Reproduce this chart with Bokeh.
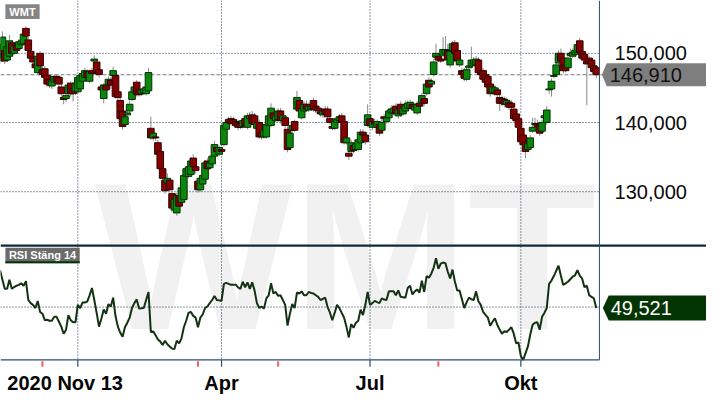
from bokeh.plotting import figure
from bokeh.models import Range1d
from bokeh.embed import file_html
from bokeh.resources import INLINE
from bokeh.core.properties import value

# ---------------- data ----------------
symbol = "WMT"
rsi_title = "RSI Stäng 14"
start_label = "2020 Nov 13"

opens = [
    148.89, 149.31, 150.42, 149.03, 149.58, 151.53, 150.00, 151.11, 150.69, 151.25,
    151.39, 153.61, 151.94, 150.28, 149.44, 148.47, 147.22, 150.00, 147.64, 147.78,
    146.81, 146.25, 145.28, 145.83, 146.67, 146.53, 145.14, 143.61, 143.47, 144.17,
    145.69, 144.86, 144.44, 144.44, 144.86, 145.97, 146.53, 147.36, 145.97, 147.50,
    148.89, 148.75, 147.64, 145.14, 143.47, 145.42, 145.42, 146.11, 146.81, 146.81,
    144.44, 143.19, 141.67, 139.72, 141.11, 141.67, 143.33, 144.44, 145.83, 144.72,
    144.17, 144.31, 144.17, 144.58, 139.17, 137.78, 137.92, 137.08, 135.83, 133.33,
    131.67, 131.25, 131.67, 129.72, 127.36, 126.94, 129.44, 128.47, 128.89, 132.22,
    132.22, 132.50, 134.86, 133.61, 131.53, 130.28, 131.11, 131.81, 134.44, 133.47,
    134.03, 135.14, 136.39, 135.42, 136.11, 136.81, 139.03, 140.42, 140.56, 140.42,
    140.14, 140.00, 139.86, 139.44, 140.56, 139.31, 140.56, 141.11, 140.97, 139.17,
    140.00, 138.47, 137.92, 137.92, 139.58, 139.58, 141.39, 140.28, 140.42, 141.67,
    140.28, 140.69, 139.03, 136.39, 138.89, 140.14, 141.94, 143.19, 140.69, 141.67,
    142.64, 141.81, 141.94, 143.19, 142.36, 142.08, 141.53, 141.11, 141.94, 141.94,
    140.56, 139.44, 139.17, 140.00, 140.28, 140.97, 140.14, 137.08, 135.56, 135.83,
    136.67, 136.11, 136.11, 137.08, 138.61, 138.19, 139.58, 140.56, 139.31, 140.14,
    139.31, 139.72, 138.89, 140.83, 140.14, 140.69, 141.39, 141.39, 142.36, 140.97,
    142.64, 141.25, 141.67, 142.08, 142.08, 142.64, 141.81, 141.39, 142.78, 142.78,
    143.47, 144.17, 146.11, 145.56, 146.94, 149.44, 149.58, 149.17, 149.72, 150.00,
    150.42, 148.33, 150.42, 151.53, 150.42, 148.33, 147.50, 147.50, 146.25, 147.92,
    148.19, 148.47, 148.33, 149.03, 147.50, 147.50, 146.94, 146.67, 145.56, 144.31,
    144.31, 144.72, 143.61, 143.47, 143.33, 142.64, 142.92, 142.78, 141.94, 141.25,
    140.56, 139.17, 138.19, 137.22, 136.11, 136.39, 138.75, 139.72, 139.86, 139.72,
    138.75, 140.69, 140.00, 144.72, 144.86, 146.67, 146.94, 148.61, 150.00, 149.31,
    148.33, 147.92, 149.72, 149.58, 149.86, 150.14, 151.81, 150.28, 149.86, 148.89,
    149.31, 149.03, 148.19, 147.92,
]

closes = [
    151.39, 152.36, 148.89, 150.97, 151.81, 150.00, 151.11, 150.42, 151.67, 151.81,
    152.78, 152.50, 150.42, 149.31, 148.75, 147.92, 149.58, 148.19, 146.94, 146.53,
    145.56, 145.42, 146.11, 146.67, 145.97, 145.56, 144.17, 143.33, 143.89, 145.42,
    144.17, 144.17, 145.69, 146.53, 146.81, 147.08, 147.50, 146.53, 147.36, 147.08,
    149.17, 147.22, 146.94, 144.72, 145.42, 144.72, 146.25, 145.42, 147.50, 143.75,
    143.61, 140.56, 139.44, 140.83, 141.39, 142.64, 144.44, 145.14, 144.03, 144.03,
    144.72, 144.86, 145.14, 147.22, 137.78, 138.47, 137.78, 135.42, 133.33, 131.94,
    130.14, 131.94, 130.28, 127.64, 128.89, 129.44, 127.92, 130.56, 132.36, 133.33,
    133.61, 134.44, 133.61, 133.06, 130.28, 131.94, 132.36, 134.17, 133.33, 134.17,
    135.14, 136.81, 135.83, 136.39, 135.83, 139.58, 140.00, 140.00, 139.86, 139.86,
    139.58, 139.31, 139.31, 140.28, 139.58, 140.97, 140.97, 139.86, 139.72, 140.00,
    137.92, 137.92, 138.89, 139.72, 140.97, 142.08, 140.56, 140.97, 141.67, 140.28,
    140.97, 139.58, 136.11, 138.47, 139.58, 138.89, 143.61, 141.67, 141.94, 142.64,
    141.94, 142.36, 142.36, 141.94, 141.81, 141.67, 141.25, 141.67, 141.25, 140.83,
    140.00, 139.17, 140.14, 140.56, 140.83, 140.00, 137.08, 137.78, 135.14, 137.08,
    135.97, 136.94, 137.50, 138.61, 138.19, 137.22, 141.11, 139.58, 140.14, 139.72,
    140.14, 138.47, 140.00, 140.56, 140.69, 141.67, 141.94, 142.08, 141.25, 141.94,
    141.25, 142.08, 142.50, 142.78, 142.92, 142.08, 142.36, 142.64, 142.36, 143.89,
    142.78, 145.56, 145.14, 145.97, 148.75, 150.00, 149.03, 148.89, 150.56, 150.56,
    149.03, 150.28, 151.39, 150.00, 148.89, 149.03, 146.94, 146.39, 147.64, 148.19,
    149.03, 149.03, 149.17, 147.22, 146.94, 146.25, 145.83, 145.14, 144.17, 145.14,
    145.00, 144.03, 142.78, 142.78, 142.64, 143.19, 142.22, 142.22, 140.56, 140.28,
    139.31, 137.22, 136.81, 135.83, 136.94, 137.78, 139.31, 139.86, 139.44, 138.47,
    140.00, 140.97, 141.81, 144.86, 145.97, 146.81, 148.33, 150.00, 148.89, 147.50,
    147.50, 149.31, 150.00, 150.14, 150.42, 151.25, 150.14, 149.31, 149.03, 148.47,
    148.75, 147.92, 147.36, 146.91,
]

highs = [
    152.36, 153.19, 150.69, 151.53, 152.64, 151.94, 151.53, 151.39, 152.08, 152.22,
    153.19, 153.89, 152.36, 150.69, 149.72, 149.03, 150.00, 150.28, 148.06, 148.19,
    147.08, 146.53, 146.39, 146.94, 146.94, 146.81, 145.56, 144.03, 144.31, 145.83,
    145.97, 145.14, 145.97, 146.81, 147.22, 147.36, 147.92, 147.64, 147.64, 147.92,
    149.72, 149.17, 147.92, 145.56, 145.69, 145.83, 146.67, 146.53, 148.06, 147.22,
    144.86, 143.75, 142.08, 141.11, 141.81, 143.19, 144.86, 145.56, 146.11, 145.14,
    145.00, 145.14, 145.42, 147.92, 140.83, 138.89, 138.33, 137.50, 136.25, 133.75,
    132.22, 132.64, 131.94, 130.14, 129.17, 129.86, 129.86, 130.97, 132.78, 133.75,
    134.03, 135.00, 135.42, 134.03, 131.94, 132.22, 132.64, 134.58, 134.86, 134.58,
    135.69, 137.36, 136.81, 136.67, 136.53, 140.00, 140.56, 140.83, 140.97, 140.83,
    140.56, 140.42, 140.28, 140.69, 140.97, 141.39, 141.53, 141.67, 141.39, 140.42,
    140.42, 138.89, 139.31, 140.14, 141.53, 142.78, 141.81, 141.39, 142.08, 142.08,
    141.39, 141.11, 139.44, 138.89, 139.86, 140.42, 144.58, 143.75, 142.36, 143.06,
    143.19, 142.78, 142.78, 143.61, 142.78, 142.50, 142.08, 142.08, 142.36, 142.36,
    140.97, 139.86, 140.56, 140.97, 141.25, 141.39, 140.56, 138.19, 135.97, 137.50,
    137.08, 137.36, 137.92, 139.03, 139.03, 138.61, 142.64, 140.97, 140.56, 140.56,
    140.42, 140.14, 140.42, 141.25, 141.11, 142.08, 142.50, 142.50, 142.78, 142.36,
    143.06, 142.50, 143.19, 143.19, 143.33, 143.06, 142.78, 143.06, 143.19, 144.31,
    143.89, 145.97, 146.53, 146.39, 149.17, 151.39, 150.00, 149.72, 152.36, 152.50,
    151.39, 150.97, 151.81, 151.94, 150.69, 149.31, 147.92, 147.92, 148.06, 148.61,
    150.97, 149.44, 149.58, 149.44, 147.92, 147.92, 147.36, 147.08, 145.97, 145.56,
    145.42, 145.14, 144.03, 143.89, 143.75, 143.61, 143.33, 143.19, 142.36, 141.67,
    140.97, 139.58, 138.61, 137.64, 137.36, 138.19, 140.69, 140.69, 140.42, 140.14,
    140.42, 141.39, 142.36, 145.28, 146.39, 147.22, 148.75, 150.42, 150.69, 149.72,
    148.75, 149.72, 150.69, 150.69, 150.97, 151.67, 152.22, 150.69, 150.28, 149.31,
    149.58, 149.44, 148.61, 148.33,
]

lows = [
    148.47, 149.03, 148.47, 148.75, 149.31, 149.58, 149.72, 150.00, 150.42, 150.97,
    151.11, 152.08, 150.00, 148.89, 148.33, 147.64, 146.94, 147.92, 146.53, 146.11,
    145.14, 145.00, 144.86, 145.56, 145.69, 145.14, 143.75, 142.64, 142.92, 143.89,
    143.75, 143.06, 144.03, 144.17, 144.58, 145.69, 146.25, 146.11, 145.69, 146.67,
    148.61, 146.81, 146.53, 144.31, 142.78, 144.31, 145.14, 144.86, 146.53, 143.47,
    143.19, 140.14, 139.03, 139.31, 140.83, 141.39, 143.06, 144.17, 143.75, 143.75,
    143.89, 144.03, 143.89, 144.31, 137.50, 137.36, 137.36, 135.00, 132.92, 131.53,
    129.72, 130.97, 129.86, 127.08, 126.94, 126.53, 127.50, 128.19, 128.61, 131.81,
    131.94, 132.22, 133.19, 132.64, 129.86, 130.00, 130.83, 131.53, 133.06, 133.19,
    133.75, 134.86, 135.56, 135.14, 135.56, 136.53, 138.75, 139.72, 139.58, 139.44,
    139.17, 138.89, 139.03, 139.17, 139.31, 139.03, 140.28, 139.58, 139.31, 138.75,
    137.64, 137.50, 137.64, 137.64, 139.31, 139.31, 140.14, 140.00, 140.14, 139.86,
    140.00, 139.17, 135.69, 136.11, 138.61, 138.61, 141.67, 141.25, 140.42, 141.39,
    141.53, 141.53, 141.67, 141.53, 141.39, 141.25, 140.83, 140.69, 140.97, 140.42,
    139.72, 138.89, 138.89, 139.72, 140.00, 139.72, 136.81, 136.81, 134.58, 135.42,
    135.56, 135.83, 135.83, 136.81, 137.78, 136.81, 139.31, 139.17, 138.89, 139.44,
    139.03, 138.06, 138.61, 140.14, 139.86, 140.42, 141.11, 141.11, 140.97, 140.56,
    140.83, 140.97, 141.39, 141.81, 141.81, 141.67, 141.39, 141.11, 142.08, 142.50,
    142.36, 143.89, 144.86, 145.14, 146.67, 149.03, 148.75, 148.61, 149.44, 149.72,
    148.61, 147.92, 150.14, 149.72, 148.47, 148.06, 146.53, 145.97, 145.97, 147.64,
    147.92, 148.19, 148.06, 146.81, 146.53, 145.83, 145.42, 144.72, 143.75, 144.03,
    144.03, 143.61, 141.67, 142.36, 142.22, 142.36, 141.81, 141.81, 140.14, 139.86,
    138.89, 136.81, 136.39, 134.86, 135.69, 136.11, 138.47, 139.44, 139.03, 138.06,
    138.33, 140.42, 139.72, 144.17, 143.75, 146.39, 146.67, 148.33, 148.47, 147.08,
    147.22, 147.64, 149.44, 149.31, 149.58, 149.86, 149.72, 148.89, 148.61, 142.50,
    148.33, 147.50, 146.94, 146.39,
]

rsi = [
    68.8, 64.0, 59.3, 59.3, 63.9, 59.3, 60.2, 60.9, 61.3, 62.1,
    60.9, 63.2, 53.6, 52.0, 51.1, 49.5, 53.1, 47.5, 46.6, 43.3,
    43.5, 43.0, 43.0, 45.0, 45.0, 42.5, 40.0, 36.4, 38.4, 45.9,
    43.3, 42.2, 42.2, 51.1, 49.5, 52.3, 52.3, 52.8, 56.0, 59.7,
    53.6, 47.0, 40.0, 44.0, 48.7, 46.6, 51.5, 50.3, 54.8, 45.4,
    40.0, 37.0, 34.8, 39.7, 42.0, 44.6, 49.5, 52.0, 53.9, 49.2,
    49.4, 49.5, 53.6, 57.7, 37.3, 37.6, 35.6, 33.5, 32.4, 30.7,
    32.8, 31.0, 29.9, 28.8, 28.6, 32.8, 31.5, 34.0, 39.7, 43.0,
    47.1, 47.5, 45.5, 44.6, 39.7, 44.6, 46.2, 49.5, 50.3, 52.0,
    53.6, 55.7, 53.6, 53.4, 53.1, 61.8, 62.3, 61.8, 61.4, 61.4,
    61.4, 60.0, 59.3, 62.9, 60.1, 62.6, 59.3, 62.6, 58.5, 52.0,
    49.5, 50.3, 49.2, 54.4, 56.0, 62.1, 56.9, 57.7, 55.7, 56.0,
    53.6, 51.1, 40.5, 46.6, 51.5, 49.5, 57.4, 56.9, 58.0, 56.0,
    56.0, 57.7, 57.2, 56.9, 56.0, 55.2, 53.6, 54.2, 54.8, 50.0,
    47.1, 43.3, 47.0, 51.1, 49.5, 47.0, 44.6, 40.0, 34.5, 41.3,
    39.4, 42.0, 43.0, 48.7, 45.9, 51.0, 57.7, 51.1, 52.0, 53.1,
    52.5, 52.0, 54.4, 53.8, 53.6, 58.0, 58.0, 58.0, 56.0, 58.5,
    55.2, 55.0, 54.8, 59.7, 60.9, 56.4, 58.0, 59.0, 57.4, 63.4,
    57.7, 65.8, 65.0, 67.0, 70.0, 74.9, 69.5, 72.1, 72.7, 72.4,
    68.0, 64.6, 69.1, 63.0, 58.5, 58.5, 54.0, 49.5, 52.5, 54.8,
    54.0, 53.6, 58.0, 53.0, 51.1, 47.5, 46.0, 44.6, 40.5, 42.5,
    44.3, 41.0, 38.5, 36.4, 37.7, 37.3, 38.5, 39.7, 36.4, 31.5,
    31.9, 25.0, 23.0, 26.5, 29.9, 36.0, 41.0, 42.0, 42.2, 38.4,
    45.0, 47.0, 49.5, 61.8, 63.5, 65.8, 68.5, 71.1, 66.0, 61.3,
    62.1, 62.9, 64.2, 65.5, 66.2, 68.8, 66.0, 64.6, 60.1, 60.9,
    56.0, 55.2, 54.4, 49.521,
]

price_ticks = [130, 140, 150]
price_tick_labels = ["130,000", "140,000", "150,000"]
date_ticks = [33, 94, 157, 221]          # trading-day index of Jan, Apr, Jul, Okt
date_tick_labels = ["", "Apr", "Jul", "Okt"]
dividend_idx = [18, 84, 118, 186]
rsi_mid = [50]
last_close_label = "146,910"
last_rsi_label = "49,521"

# ---------------- layout helpers (reference-layout pixels -> data) ----------------
W, H = 706, 394      # canvas; the 722x410 design is scaled into it
DAY_PX = 2.41        # design px per trading day
X0 = 0.2             # trading-day index at the left edge
PRICE_PX = 7.2       # design px per price unit
P_TOP = 150 + 55 / PRICE_PX
RSI_PX = 2.04        # design px per RSI unit
R_TOP = 50 + 319 / RSI_PX


def X(px):
    return X0 + px / DAY_PX


def PY(px):
    return P_TOP - px / PRICE_PX


def RY(px):
    return R_TOP - px / RSI_PX


FONT = value("Liberation Sans")
NAVY = "#1d2f4f"
AXIS = "#2b4c70"

p = figure(width=W, height=H, x_range=Range1d(X(0), X(722)),
           y_range=Range1d(PY(410), PY(0)), output_backend="svg",
           toolbar_location=None, x_axis_location=None, y_axis_location=None,
           min_border=0, outline_line_color=None, background_fill_color="white",
           border_fill_color="white")
p.extra_y_ranges = {"rsi": Range1d(RY(410), RY(0))}
p.grid.visible = False

# watermark
p.text(x=[X(96.5)], y=[PY(266.7)], text=[symbol], text_font=FONT,
       text_font_style="bold", text_font_size="210px", text_color="#f1f1f1",
       text_align="left", text_baseline="alphabetic")

# grid lines
p.segment(x0=X(0), x1=X(612.5), y0=price_ticks, y1=price_ticks,
          line_color=NAVY, line_dash="1 2", line_width=1)
p.segment(x0=date_ticks, x1=date_ticks, y0=PY(0), y1=PY(374),
          line_color=NAVY, line_dash="1 2", line_width=1)
p.segment(x0=X(0), x1=X(612.5), y0=rsi_mid, y1=rsi_mid, y_range_name="rsi",
          line_color=NAVY, line_dash="1 2", line_width=1)

# last close dashed line
p.segment(x0=[X(0)], x1=[X(615)], y0=[closes[-1]], y1=[closes[-1]],
          line_color="#7a7a7a", line_dash="4 2", line_width=1.2)

# candles
idx = list(range(len(closes)))
up = [c >= o for o, c in zip(opens, closes)]
p.segment(x0=idx, x1=idx, y0=lows, y1=highs, line_color="#8a8a8a", line_width=1)
p.vbar(x=idx, width=2.8,
       top=[max(o, c) for o, c in zip(opens, closes)],
       bottom=[min(o, c) for o, c in zip(opens, closes)],
       fill_color=["#0b870b" if u else "#850000" for u in up],
       line_color=["#033003" if u else "#300202" for u in up],
       line_width=1)

# RSI line
p.line(idx, rsi, y_range_name="rsi", line_color="#123312", line_width=2)

# frame lines
p.segment(x0=[X(0)], x1=[X(722)], y0=[PY(255)], y1=[PY(255)],
          line_color="#0e2b3d", line_width=2.2)
p.segment(x0=[X(612.5)], x1=[X(612.5)], y0=[PY(0)], y1=[PY(374)],
          line_color=AXIS, line_width=1)
p.segment(x0=[X(0)], x1=[X(612.5)], y0=[PY(374)], y1=[PY(374)],
          line_color=AXIS, line_width=1.2)
p.segment(x0=date_ticks, x1=date_ticks, y0=PY(374), y1=PY(381),
          line_color=AXIS, line_width=1.2)
p.segment(x0=dividend_idx, x1=dividend_idx, y0=PY(375.5), y1=PY(381),
          line_color="#ff5b5b", line_width=2)

# price labels
p.text(x=X(628), y=price_ticks, text=price_tick_labels, text_font=FONT,
       text_font_size="20px", text_color="#0a0a0a", text_align="left",
       text_baseline="middle")

# last close tag
c = closes[-1]
h1 = 12 / PRICE_PX
p.patch(x=[X(615), X(620), X(722), X(722), X(620)],
        y=[c, c + h1, c + h1, c - h1, c - h1],
        fill_color="#7e7e7e", line_color=None)
p.text(x=[X(623)], y=[c], text=[last_close_label], text_font=FONT,
       text_font_size="20px", text_color="#111111", text_align="left",
       text_baseline="middle")

# last RSI tag
r = rsi[-1]
h2 = 13 / RSI_PX
p.patch(x=[X(616), X(622), X(722), X(722), X(622)],
        y=[r, r + h2, r + h2, r - h2, r - h2], y_range_name="rsi",
        fill_color="#033503", line_color=None)
p.text(x=[X(624)], y=[r], text=[last_rsi_label], y_range_name="rsi",
       text_font=FONT, text_font_size="20px", text_color="white",
       text_align="left", text_baseline="middle")

# date labels
p.text(x=[X(7)], y=[PY(398)], text=[start_label], text_font=FONT,
       text_font_style="bold", text_font_size="20px", text_color="#050505",
       text_align="left", text_baseline="alphabetic")
lab_x = [t for t, l in zip(date_ticks, date_tick_labels) if l]
lab_t = [l for l in date_tick_labels if l]
p.text(x=lab_x, y=PY(398), text=lab_t, text_font=FONT, text_font_style="bold",
       text_font_size="20px", text_color="#050505", text_align="center",
       text_baseline="alphabetic")

# panel title boxes
p.quad(left=[X(5)], right=[X(40)], top=[PY(4)], bottom=[PY(19.3)],
       fill_color="#858585", line_color=None)
p.text(x=[X(22.5)], y=[PY(11.6)], text=[symbol], text_font=FONT,
       text_font_style="bold", text_font_size="11px", text_color="white",
       text_align="center", text_baseline="middle")
p.quad(left=[X(5)], right=[X(81)], top=[PY(257.3)], bottom=[PY(273.3)],
       fill_color="#6b6b6b", line_color=None)
p.quad(left=[X(5)], right=[X(81)], top=[PY(271.3)], bottom=[PY(273.3)],
       fill_color="#053505", line_color=None)
p.text(x=[X(43)], y=[PY(265.3)], text=[rsi_title], text_font=FONT,
       text_font_style="bold", text_font_size="11px", text_color="white",
       text_align="center", text_baseline="middle")

open("out.html", "w").write(file_html(p, INLINE))
